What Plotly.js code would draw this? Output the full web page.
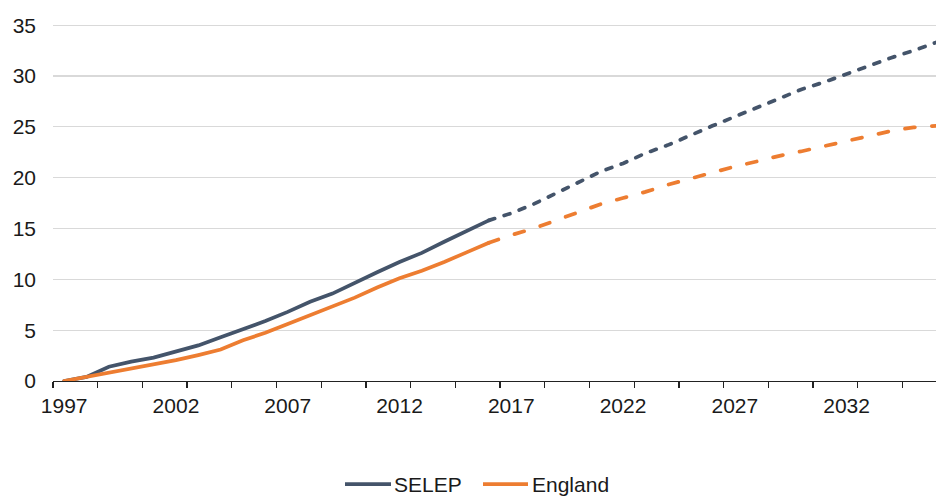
<!DOCTYPE html>
<html>
<head>
<meta charset="utf-8">
<script src="https://cdn.plot.ly/plotly-3.0.1.min.js"></script>
<style>
  html, body { margin: 0; padding: 0; background: #fff; }
  #chart { width: 936px; height: 497px; }
</style>
</head>
<body>
<div id="chart"></div>
<script>
const yearsActual = [1997, 1998, 1999, 2000, 2001, 2002, 2003, 2004, 2005, 2006,
                     2007, 2008, 2009, 2010, 2011, 2012, 2013, 2014, 2015, 2016];
const selepActual = [0.0, 0.4, 1.4, 1.9, 2.3, 2.9, 3.5, 4.3, 5.1, 5.9,
                     6.8, 7.8, 8.6, 9.7, 10.7, 11.7, 12.6, 13.7, 14.7, 15.8];
const englandActual = [0.0, 0.4, 0.8, 1.25, 1.6, 2.05, 2.55, 3.1, 4.0, 4.75,
                       5.6, 6.5, 7.3, 8.2, 9.2, 10.1, 10.85, 11.7, 12.65, 13.6];

const yearsProj = [2016, 2017, 2018, 2019, 2020, 2021, 2022, 2023, 2024, 2025, 2026,
                   2027, 2028, 2029, 2030, 2031, 2032, 2033, 2034, 2035, 2036];
const selepProj = [15.8, 16.5, 17.4, 18.5, 19.5, 20.6, 21.4, 22.4, 23.2, 24.2, 25.1,
                   26.0, 26.9, 27.8, 28.7, 29.4, 30.2, 31.0, 31.8, 32.5, 33.3];
const englandProj = [13.6, 14.35, 15.0, 15.8, 16.6, 17.4, 18.0, 18.6, 19.3, 19.9, 20.5,
                     21.1, 21.6, 22.15, 22.6, 23.1, 23.6, 24.1, 24.6, 24.95, 25.1];

const seriesNames = ['SELEP', 'England'];
const xTickLabels = [1997, 2002, 2007, 2012, 2017, 2022, 2027, 2032];
const yTickLabels = [0, 5, 10, 15, 20, 25, 30, 35];

const selepColor = '#44546A';
const englandColor = '#ED7D31';
const font = 'Liberation Sans, Arial, sans-serif';
const textColor = '#1a1a1a';
const lw = 3.75;

const traces = [
  { x: yearsActual, y: selepActual, name: seriesNames[0], mode: 'lines',
    line: { color: selepColor, width: lw }, hoverinfo: 'skip' },
  { x: yearsActual, y: englandActual, name: seriesNames[1], mode: 'lines',
    line: { color: englandColor, width: lw }, hoverinfo: 'skip' },
  { x: yearsProj, y: selepProj, name: seriesNames[0] + ' projection', mode: 'lines',
    line: { color: selepColor, width: lw, dash: '6px,10px' }, hoverinfo: 'skip' },
  { x: yearsProj, y: englandProj, name: seriesNames[1] + ' projection', mode: 'lines',
    line: { color: englandColor, width: lw, dash: '10px,17px' }, hoverinfo: 'skip' }
];

// manual legend (paper coordinates): plot spans x 53..936 px, y 15..381 px
const px = v => (v - 53) / 883;
const py = v => (381 - v) / 366;
const legY = py(484);

const layout = {
  width: 936, height: 497,
  margin: { l: 53, r: 0, t: 15, b: 116 },
  paper_bgcolor: '#fff', plot_bgcolor: '#fff',
  font: { family: font, size: 21, color: textColor },
  showlegend: false,
  shapes: [
    { type: 'line', xref: 'paper', yref: 'paper', x0: px(345), x1: px(391), y0: legY, y1: legY,
      line: { color: selepColor, width: lw } },
    { type: 'line', xref: 'paper', yref: 'paper', x0: px(483), x1: px(528), y0: legY, y1: legY,
      line: { color: englandColor, width: lw } }
  ],
  annotations: [
    { xref: 'paper', yref: 'paper', x: px(392), y: legY, xanchor: 'left', yanchor: 'middle',
      text: seriesNames[0], showarrow: false, font: { family: font, size: 21, color: textColor } },
    { xref: 'paper', yref: 'paper', x: px(530), y: legY, xanchor: 'left', yanchor: 'middle',
      text: seriesNames[1], showarrow: false, font: { family: font, size: 21, color: textColor } }
  ],
  xaxis: {
    range: [1996.5, 2036.0],
    tickmode: 'array', tickvals: xTickLabels, ticktext: xTickLabels.map(String),
    ticks: '', showgrid: false, zeroline: false,
    showline: true, linecolor: '#222', linewidth: 1.3,
    ticklabelstandoff: 5,
    minor: { tickmode: 'linear', tick0: 1996.5, dtick: 2, ticks: 'outside', ticklen: 6,
             tickwidth: 1.3, tickcolor: '#222', showgrid: false },
    tickfont: { family: font, size: 21, color: textColor },
    fixedrange: true
  },
  yaxis: {
    range: [0, 36],
    tickmode: 'array', tickvals: yTickLabels, ticktext: yTickLabels.map(String),
    ticks: '', showgrid: true, gridcolor: '#d9d9d9', gridwidth: 1.3,
    zeroline: false, showline: false,
    ticklabelstandoff: 16,
    tickfont: { family: font, size: 21, color: textColor },
    fixedrange: true
  }
};

Plotly.newPlot('chart', traces, layout, { displayModeBar: false, staticPlot: true }).then(gd => {
  gd.querySelectorAll('.scatterlayer .js-line').forEach(p => {
    p.style.strokeLinecap = 'round';
  });
});
</script>
</body>
</html>
